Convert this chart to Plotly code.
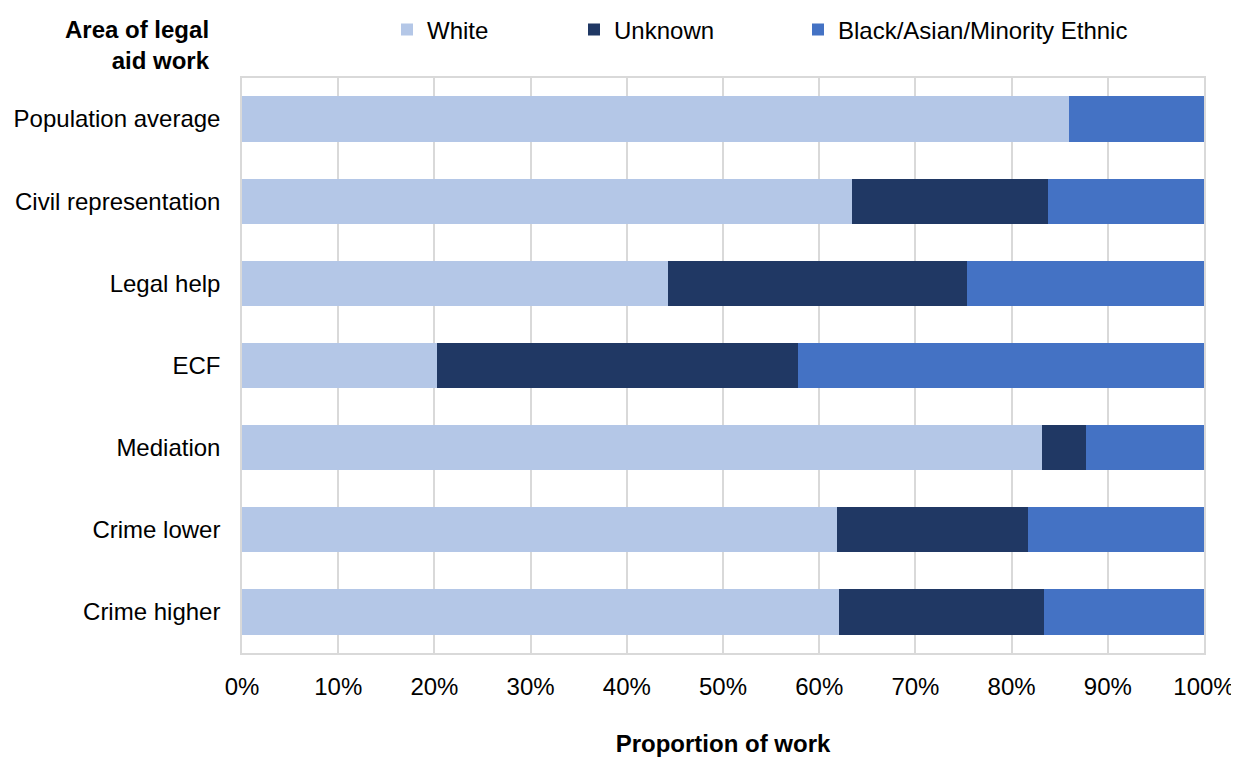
import plotly.graph_objects as go

categories = ["Population average", "Civil representation", "Legal help", "ECF",
              "Mediation", "Crime lower", "Crime higher"]
white = [86.0, 63.4, 44.3, 20.3, 83.2, 61.9, 62.1]
unknown = [0.0, 20.4, 31.1, 37.5, 4.5, 19.8, 21.3]
bame = [14.0, 16.2, 24.6, 42.2, 12.3, 18.3, 16.6]

series = [("White", white, "#B4C7E7", "legend"),
          ("Unknown", unknown, "#203864", "legend2"),
          ("Black/Asian/Minority Ethnic", bame, "#4472C4", "legend3")]

fig = go.Figure()
for name, vals, color, lg in series:
    fig.add_trace(go.Bar(
        y=categories, x=vals, name=name, orientation="h",
        marker=dict(color=color, line=dict(width=0)),
        legend=lg,
    ))

# page body has an 8px margin; figure sized to fill the rest of the window
OFF = 8
W, H = 1239 - OFF, 757 - OFF
L, R, T, B = 241.7 - OFF, W - (1203.7 - OFF), 78 - OFF, H - (653 - OFF)

font = dict(family="Liberation Sans, Arial, sans-serif", size=24, color="#000000")
legend_common = dict(orientation="h", yref="container", xref="container",
                     yanchor="middle", y=1 - (30 - OFF) / H, xanchor="left",
                     bgcolor="rgba(0,0,0,0)", font=font, itemwidth=30,
                     tracegroupgap=0)

fig.update_layout(
    width=W, height=H,
    margin=dict(l=L, r=R, t=T, b=B, autoexpand=False),
    paper_bgcolor="white", plot_bgcolor="white",
    barmode="stack", bargap=0.45,
    font=font,
    showlegend=True,
    legend=dict(legend_common, x=(427 - OFF - 40) / W),
    legend2=dict(legend_common, x=(614 - OFF - 40) / W),
    legend3=dict(legend_common, x=(838 - OFF - 40) / W),
    xaxis=dict(
        range=[0, 100], tickvals=[0, 10, 20, 30, 40, 50, 60, 70, 80, 90, 100],
        ticktext=["0%", "10%", "20%", "30%", "40%", "50%", "60%", "70%", "80%", "90%", "100%"],
        showgrid=True, gridcolor="#D9D9D9", gridwidth=1.5,
        showline=True, linecolor="#D9D9D9", linewidth=1.5, mirror=True,
        zeroline=False, ticks="", ticklabelstandoff=11, automargin=False,
        tickfont=dict(size=24),
        title=dict(text="<b>Proportion of work</b>", standoff=39, font=dict(size=24)),
    ),
    yaxis=dict(
        autorange="reversed", showgrid=False, automargin=False,
        showline=True, linecolor="#D9D9D9", linewidth=1.5, mirror=True,
        ticks="", ticklabelstandoff=15, tickfont=dict(size=24),
    ),
    annotations=[dict(
        text="<b>Area of legal<br>aid work</b>", xref="paper", yref="paper",
        x=-30 / (W - L - R), y=1 + 33 / (H - T - B),
        xanchor="right", yanchor="middle",
        align="right", showarrow=False, font=dict(size=24),
    )],
)

fig.write_html("out.html")
